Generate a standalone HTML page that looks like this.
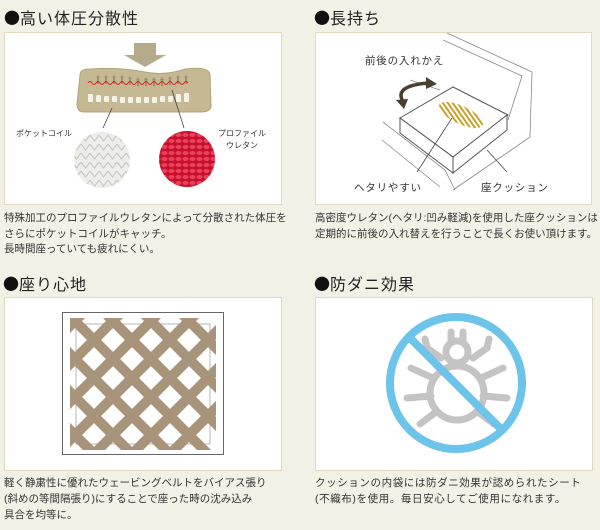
<!DOCTYPE html>
<html><head><meta charset="utf-8"><style>
body{margin:0;background:#f1f1e6;width:600px;height:530px;overflow:hidden}
svg{display:block}
text{font-family:"Liberation Sans","Noto Sans CJK JP",sans-serif;fill:#333}
.t{font-size:16px;fill:#222;letter-spacing:1px}
.dot{font-family:"Noto Sans CJK JP",sans-serif;font-size:16px;fill:#111}
.b{font-size:10.5px;fill:#333}
.s{font-size:8px;fill:#333}
</style></head><body>
<svg width="600" height="530" viewBox="0 0 600 530">
<defs>
<pattern id="hatch" width="4" height="4" patternUnits="userSpaceOnUse" patternTransform="rotate(30)"><rect width="4" height="2" fill="#c9a227"/></pattern>
<pattern id="red" width="7" height="6" patternUnits="userSpaceOnUse"><rect width="7" height="6" fill="#c8102e"/><ellipse cx="3.5" cy="3" rx="3" ry="2" fill="#e8435a"/></pattern>
<pattern id="grey" width="9" height="9" patternUnits="userSpaceOnUse"><rect width="9" height="9" fill="#ededeb"/><path d="M0 0L4.5 6L9 0" stroke="#c4c4bc" fill="none" stroke-width="1"/></pattern>
<clipPath id="lc"><rect x="70" y="318" width="146" height="132"/></clipPath>
</defs>
<!-- titles -->
<text x="4" y="24"><tspan class="dot">●</tspan><tspan class="t">高い体圧分散性</tspan></text>
<text x="314" y="24"><tspan class="dot">●</tspan><tspan class="t">長持ち</tspan></text>
<text x="3" y="290"><tspan class="dot">●</tspan><tspan class="t">座り心地</tspan></text>
<text x="314" y="290"><tspan class="dot">●</tspan><tspan class="t">防ダニ効果</tspan></text>
<!-- panels -->
<rect x="4.5" y="32.5" width="277" height="172" fill="#fff" stroke="#e2d9be"/>
<rect x="315.5" y="32.5" width="276" height="172" fill="#fff" stroke="#e2d9be"/>
<rect x="4.5" y="297.5" width="277" height="173" fill="#fff" stroke="#e2d9be"/>
<rect x="315.5" y="297.5" width="277" height="173" fill="#fff" stroke="#e2d9be"/>

<!-- panel 1 -->
<path d="M134 43h22v12h10l-21 12-21-12h10z" fill="#b5ab8a"/>
<path d="M80 75Q80 69 90 69Q120 67 145 72Q165 76 185 69Q208 66 210 74L211 106Q211 112 200 112H84Q77 112 77 104Z" fill="#c5b994" stroke="#b0a47e"/>
<g fill="#a09070">
<path d="M96 78l2-3 2 3h-1v6h-2v-6z"/><path d="M104 78l2-3 2 3h-1v6h-2v-6z"/><path d="M112 78l2-3 2 3h-1v6h-2v-6z"/><path d="M120 78l2-3 2 3h-1v6h-2v-6z"/><path d="M128 79l2-3 2 3h-1v6h-2v-6z"/><path d="M136 80l2-3 2 3h-1v6h-2v-6z"/><path d="M144 80l2-3 2 3h-1v6h-2v-6z"/><path d="M152 80l2-3 2 3h-1v6h-2v-6z"/><path d="M160 80l2-3 2 3h-1v6h-2v-6z"/><path d="M168 79l2-3 2 3h-1v6h-2v-6z"/><path d="M176 78l2-3 2 3h-1v6h-2v-6z"/><path d="M184 78l2-3 2 3h-1v6h-2v-6z"/>
</g>
<path d="M88 83q2 -3 4 0t4 0t4 0t4 0t4 0t4 0t4 0t4 0t4 0t4 0t4 0t4 0t4 0t4 0t4 0t4 0t4 0t4 0t4 0t4 0t4 0t4 0t4 0t4 0t4 0" fill="none" stroke="#e0201e" stroke-width="1"/>
<g fill="#f4f1e6"><rect x="88" y="94" width="5" height="8" rx="1"/><rect x="96" y="95" width="5" height="7" rx="1"/><rect x="104" y="96" width="5" height="6" rx="1"/><rect x="112" y="96" width="5" height="6" rx="1"/><rect x="120" y="97" width="5" height="6" rx="1"/><rect x="128" y="97" width="5" height="6" rx="1"/><rect x="136" y="97" width="5" height="6" rx="1"/><rect x="144" y="97" width="5" height="6" rx="1"/><rect x="152" y="97" width="5" height="6" rx="1"/><rect x="160" y="96" width="5" height="6" rx="1"/><rect x="168" y="96" width="5" height="6" rx="1"/><rect x="176" y="94" width="5" height="8" rx="1"/><rect x="184" y="93" width="5" height="9" rx="1"/></g>
<line x1="112" y1="108" x2="103" y2="128" stroke="#444" stroke-width="0.8"/>
<line x1="172" y1="90" x2="184" y2="128" stroke="#444" stroke-width="0.8"/>
<circle cx="102" cy="160" r="28" fill="url(#grey)"/>
<circle cx="187" cy="159" r="28" fill="url(#red)"/>
<text class="s" x="16" y="136">ポケットコイル</text>
<text class="s" x="218" y="136">プロファイル</text>
<text class="s" x="226" y="148">ウレタン</text>
<text class="b" x="4" y="221">特殊加工のプロファイルウレタンによって分散された体圧を</text>
<text class="b" x="4" y="237">さらにポケットコイルがキャッチ。</text>
<text class="b" x="4" y="252">長時間座っていても疲れにくい。</text>

<!-- panel 2 -->
<g fill="none" stroke="#888" stroke-width="0.8">
<path d="M447 33L532 72L530 137L453 190"/>
<path d="M443 40L522 76L508 120"/>
<path d="M410 80L440 90"/>
<path d="M383 122L445 170L455 190"/>
<path d="M382 140L440 187"/>
</g>
<path d="M400 118L453 87L508 115L453 157Z" fill="#fff" stroke="#555" stroke-width="1"/>
<path d="M400 118V133L453 173V157Z" fill="#fff" stroke="#555" stroke-width="1"/>
<path d="M453 157V173L507 130V115Z" fill="#fff" stroke="#555" stroke-width="1"/>
<ellipse cx="461" cy="115" rx="24" ry="9" transform="rotate(25 461 115)" fill="url(#hatch)"/>
<path d="M404 103Q392 86 428 83" fill="none" stroke="#4a4030" stroke-width="3.5"/>
<path d="M426 77l11 7-11 5z" fill="#4a4030"/>
<path d="M396 100l8 9 4-10z" fill="#4a4030"/>
<line x1="452" y1="118" x2="417" y2="172" stroke="#444" stroke-width="0.8"/>
<line x1="487" y1="150" x2="507" y2="172" stroke="#444" stroke-width="0.8"/>
<text class="b" x="365" y="64" letter-spacing="0.8">前後の入れかえ</text>
<text class="b" x="354" y="191" letter-spacing="0.8">ヘタリやすい</text>
<text class="b" x="481" y="191" letter-spacing="0.8">座クッション</text>
<text class="b" x="315" y="221">高密度ウレタン(ヘタリ:凹み軽減)を使用した座クッションは</text>
<text class="b" x="315" y="237">定期的に前後の入れ替えを行うことで長くお使い頂けます。</text>

<!-- panel 3 -->
<rect x="62.5" y="312.5" width="161" height="142" fill="#fff" stroke="#666"/>
<rect x="76" y="324" width="134" height="120" fill="#fff" stroke="#888" stroke-width="0.6"/>
<g clip-path="url(#lc)" stroke-width="10" stroke="#a8947a">
<g><line x1="-60" y1="300" x2="120" y2="480"/><line x1="-22" y1="300" x2="158" y2="480"/><line x1="16" y1="300" x2="196" y2="480"/><line x1="54" y1="300" x2="234" y2="480"/><line x1="92" y1="300" x2="272" y2="480"/><line x1="130" y1="300" x2="310" y2="480"/><line x1="168" y1="300" x2="348" y2="480"/></g>
<g><line x1="30" y1="480" x2="210" y2="300"/><line x1="68" y1="480" x2="248" y2="300"/><line x1="106" y1="480" x2="286" y2="300"/><line x1="-8" y1="480" x2="172" y2="300"/><line x1="-46" y1="480" x2="134" y2="300"/><line x1="-84" y1="480" x2="96" y2="300"/><line x1="144" y1="480" x2="324" y2="300"/></g>
</g>
<text class="b" x="4" y="486">軽く静粛性に優れたウェービングベルトをバイアス張り</text>
<text class="b" x="4" y="502">(斜めの等間隔張り)にすることで座った時の沈み込み</text>
<text class="b" x="4" y="518">具合を均等に。</text>

<!-- panel 4 -->
<g fill="none" stroke="#c4c4c4" stroke-width="7" stroke-linecap="round">
<circle cx="457" cy="393" r="27"/>
<circle cx="457" cy="352" r="11"/>
<path d="M441 358l-14 -10 -2 -9M473 358l14 -10 2 -9M433 378l-22 -10M481 378l22 -10M431 396l-24 2M483 396l24 2M436 412l-16 12M478 412l16 12M451 340v-8M463 340v-8"/>
</g>
<circle cx="456" cy="383" r="66" fill="none" stroke="#6cc4ea" stroke-width="8"/>
<line x1="411" y1="339" x2="500" y2="428" stroke="#6cc4ea" stroke-width="8"/>
<text class="b" x="315" y="486" letter-spacing="0.6">クッションの内袋には防ダニ効果が認められたシート</text>
<text class="b" x="315" y="502" letter-spacing="0.6">(不織布)を使用。毎日安心してご使用になれます。</text>
</svg>
</body></html>
